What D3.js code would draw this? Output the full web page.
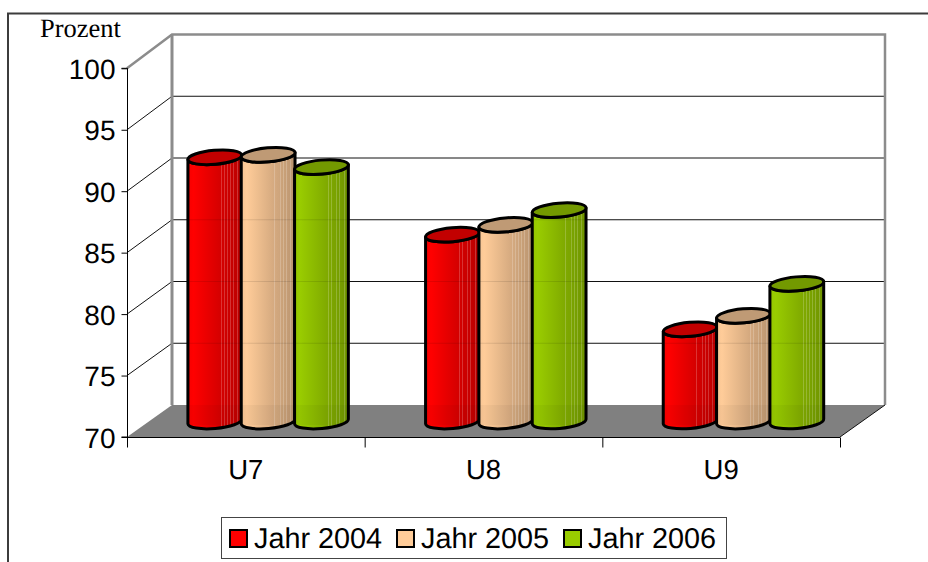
<!DOCTYPE html>
<html><head><meta charset="utf-8">
<script src="https://cdn.jsdelivr.net/npm/d3@7"></script>
<style>html,body{margin:0;padding:0;background:#fff;overflow:hidden}svg{display:block;text-rendering:geometricPrecision}</style>
</head><body><svg id="c" width="928" height="562"></svg>
<script>
const categories = ["U7","U8","U9"];
const seriesNames = ["Jahr 2004","Jahr 2005","Jahr 2006"];
const jahr2004 = [91.5,85.2,77.5];
const jahr2005 = [91.7,86.0,78.6];
const jahr2006 = [90.7,87.2,81.2];
const seriesValues = [jahr2004,jahr2005,jahr2006];
const yTicks = [70,75,80,85,90,95,100];
const bodyColors = ["#ff0000","#ffcc99","#99cc00"];
const topColors = ["#c20000","#bf9a75","#739900"];
const stripes = [0.62,0.68,0.73,0.78,0.84,0.92];

const svg = d3.select("#c");
const sans = "'Liberation Sans',Arial,sans-serif";
const x = d3.scaleBand().domain(categories).range([127,840]);
const y = d3.scaleLinear().domain([70,100]).range([437,68.3]);
const yBack = d3.scaleLinear().domain([70,100]).range([405,34.5]);
const depthX = 45;
const inner = d3.scaleBand().domain(seriesNames).range([-80,80]);
const rx = 27, ry = 7, tilt = -5;
const sinT = Math.sin(-tilt*Math.PI/180)*rx, cosT = Math.cos(tilt*Math.PI/180)*rx;
const barDepth = {dx:22.3, dy:-15.5};

// gradients
const defs = svg.append("defs");
bodyColors.forEach((c,i)=>{
  const g = defs.append("linearGradient").attr("id","g"+i);
  const mix = t => d3.interpolateRgb(d3.rgb(c), d3.rgb(c).darker(0.95))(t);
  const add = (o,col)=>g.append("stop").attr("offset",o).attr("stop-color",col);
  add(0,mix(0.12)); add(0.1,mix(0));
  stripes.forEach(s=>{
    add(s-0.005,mix(s*0.95));
    add(s-0.005,d3.interpolateRgb(mix(s*0.95),"#fff")(0.2));
    add(s+0.012,d3.interpolateRgb(mix(s*0.95),"#fff")(0.2));
    add(s+0.012,mix(s*0.95));
  });
  add(1,mix(1));
});

// outer frame
svg.append("path").attr("d","M8,562V13.5H928").attr("fill","none").attr("stroke","#3c3c3c").attr("stroke-width",2);

// floor
svg.append("polygon")
  .attr("points",[[127,437],[127+depthX,yBack(70)],[840+depthX,yBack(70)],[840,437]].join(" "))
  .attr("fill","#808080");

// gridlines
const grid = svg.append("g");
yTicks.filter(v=>v>70&&v<100).forEach(v=>{
  grid.append("path")
    .attr("d",`M127,${y(v)}L${127+depthX},${yBack(v)}H${840+depthX}`)
    .attr("fill","none").attr("stroke","#111").attr("stroke-width",1);
});
// walls
svg.append("path")
  .attr("d",`M127,${y(100)}L${127+depthX},${yBack(100)}H${840+depthX}V${yBack(70)}`)
  .attr("fill","none").attr("stroke","#8c8c8c").attr("stroke-width",2.5);
svg.append("path")
  .attr("d",`M${127+depthX},${yBack(100)}V${yBack(70)}`)
  .attr("stroke","#8c8c8c").attr("stroke-width",3);
svg.append("path")
  .attr("d",`M840,437L${840+depthX},${yBack(70)}`)
  .attr("stroke","#111").attr("stroke-width",1);

// axes
const yAxis = d3.axisLeft(y).tickValues(yTicks).tickSize(6).tickPadding(6);
const ga = svg.append("g").attr("transform","translate(127.5,0)").call(yAxis);
ga.select(".domain").attr("stroke","#000").attr("d",`M-6,${y(100)}H0V${y(70)}H-6`);
ga.selectAll("text").attr("font-family",sans).attr("font-size",28).attr("fill","#000").attr("dy","0.36em");
ga.selectAll("line").attr("stroke","#000");
const edges = categories.map(c=>x(c)).concat(840);
const xAxis = d3.axisBottom(d3.scaleLinear().domain([127,840]).range([127,840])).tickValues(edges).tickSize(10).tickFormat("");
const gx = svg.append("g").attr("transform","translate(0,437.5)").call(xAxis);
gx.select(".domain").attr("stroke","#000").attr("d","M127,0H840");
gx.selectAll("line").attr("stroke","#000");
svg.selectAll(".cat").data(categories).join("text").attr("class","cat")
  .attr("x",d=>x(d)+x.bandwidth()/2).attr("y",479).attr("text-anchor","middle")
  .attr("font-family",sans).attr("font-size",27.5).attr("fill","#000").text(d=>d);

// cylinders
const body = (cx,top,base)=>
  `M${cx-cosT},${top+sinT}V${base+sinT}A${rx},${ry} ${tilt} 0 0 ${cx+cosT},${base-sinT}V${top-sinT}A${rx},${ry} ${tilt} 0 1 ${cx-cosT},${top+sinT}Z`;
const clip = defs.append("clipPath").attr("id","bars");
const bars = svg.append("g");
categories.forEach((cat,ci)=>{
  seriesNames.forEach((s,si)=>{
    const cx = x(cat)+x.bandwidth()/2+barDepth.dx+inner(s)+inner.bandwidth()/2;
    const top = y(seriesValues[si][ci])+barDepth.dy, base = y(70)+barDepth.dy;
    const d = body(cx,top,base);
    clip.append("path").attr("d",d);
    bars.append("path").attr("d",d).attr("fill",`url(#g${si})`).attr("stroke","#000").attr("stroke-width",3).attr("stroke-linejoin","round");
    bars.append("ellipse").attr("transform",`translate(${cx},${top}) rotate(${tilt})`)
      .attr("rx",rx).attr("ry",ry).attr("fill",topColors[si]).attr("stroke","#000").attr("stroke-width",3);
  });
});
// faint show-through of floor and gridlines
const over = svg.append("g").attr("clip-path","url(#bars)");
over.append("rect").attr("x",127).attr("y",yBack(70)).attr("width",760).attr("height",20).attr("fill","#000").attr("opacity",0.035);
yTicks.filter(v=>v>70&&v<100).forEach(v=>{
  over.append("line").attr("x1",172).attr("x2",885).attr("y1",yBack(v)).attr("y2",yBack(v)).attr("stroke","#000").attr("opacity",0.1);
});

// Prozent
svg.append("text").attr("x",40).attr("y",37).attr("font-family","'Liberation Serif','Times New Roman',serif")
  .attr("font-size",26.5).attr("fill","#000").text("Prozent");

// legend
const lg = svg.append("g");
lg.append("rect").attr("x",221.5).attr("y",517.5).attr("width",505).attr("height",41).attr("fill","#fff").attr("stroke","#444").attr("stroke-width",1);
const swatchX = d3.scalePoint().domain(seriesNames).range([230,564]);
const it = lg.selectAll("g").data(seriesNames).join("g").attr("transform",d=>`translate(${swatchX(d)},530)`);
it.append("rect").attr("width",17).attr("height",17).attr("fill",(d,i)=>bodyColors[i]).attr("stroke","#000").attr("stroke-width",2);
it.append("text").attr("x",24).attr("y",18).attr("font-family",sans).attr("font-size",28.8).attr("fill","#000").text(d=>d);
</script></body></html>
